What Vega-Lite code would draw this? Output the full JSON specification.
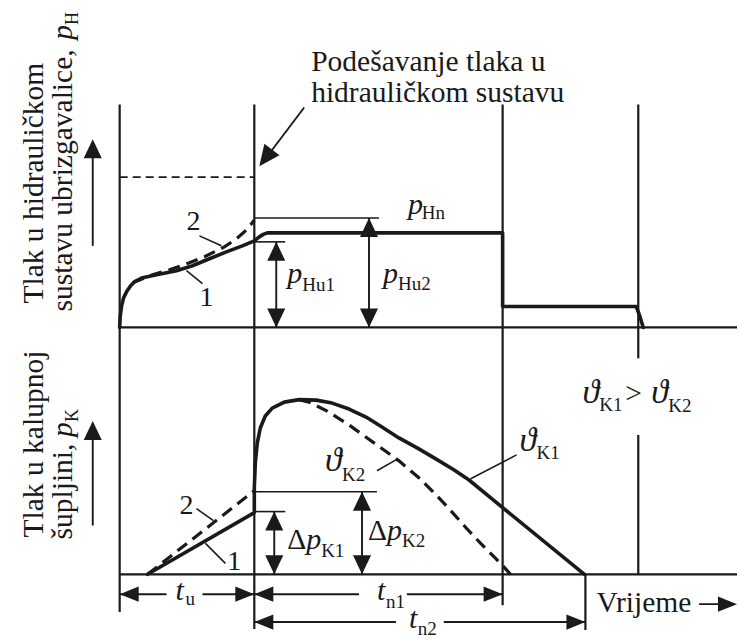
{
  "$schema": "https://vega.github.io/schema/vega-lite/v6.json",
  "width": 739,
  "height": 639,
  "padding": 0,
  "autosize": {"type": "fit", "contains": "padding"},
  "background": "white",
  "config": {"view": {"stroke": null}},
  "datasets": {
    "frame": [
      {"x": 120, "y": 105, "x2": 120, "y2": 615},
      {"x": 255, "y": 105, "x2": 255, "y2": 632},
      {"x": 504, "y": 105, "x2": 504, "y2": 608},
      {"x": 640, "y": 105, "x2": 640, "y2": 360},
      {"x": 640, "y": 437, "x2": 640, "y2": 577},
      {"x": 587, "y": 577, "x2": 587, "y2": 633},
      {"x": 120, "y": 329, "x2": 739, "y2": 329},
      {"x": 120, "y": 577, "x2": 739, "y2": 577}
    ],
    "thin": [
      {"x": 255, "y": 219, "x2": 380, "y2": 219},
      {"x": 255, "y": 243, "x2": 286, "y2": 243},
      {"x": 255, "y": 494, "x2": 378, "y2": 494},
      {"x": 255, "y": 514, "x2": 286, "y2": 514},
      {"x": 200, "y": 237, "x2": 222, "y2": 247},
      {"x": 187, "y": 272, "x2": 203, "y2": 285},
      {"x": 197, "y": 511, "x2": 214, "y2": 523},
      {"x": 206, "y": 546, "x2": 226, "y2": 566},
      {"x": 378, "y": 473, "x2": 397, "y2": 462},
      {"x": 472, "y": 481, "x2": 518, "y2": 457}
    ],
    "dash": [{"x": 120, "y": 178, "x2": 255, "y2": 178}],
    "stems": [
      {"x": 305, "y": 108, "x2": 262, "y2": 165},
      {"x": 277, "y": 243, "x2": 277, "y2": 329},
      {"x": 370, "y": 219, "x2": 370, "y2": 329},
      {"x": 275, "y": 514, "x2": 275, "y2": 577},
      {"x": 363, "y": 494, "x2": 363, "y2": 577},
      {"x": 93, "y": 247, "x2": 93, "y2": 145},
      {"x": 93, "y": 528, "x2": 93, "y2": 428},
      {"x": 120, "y": 597, "x2": 167, "y2": 597},
      {"x": 203, "y": 597, "x2": 255, "y2": 597},
      {"x": 255, "y": 597, "x2": 360, "y2": 597},
      {"x": 408, "y": 597, "x2": 504, "y2": 597},
      {"x": 255, "y": 625, "x2": 397, "y2": 625},
      {"x": 445, "y": 625, "x2": 587, "y2": 625},
      {"x": 701, "y": 607, "x2": 735, "y2": 607}
    ],
    "heads": [
      {"x": 260, "y": 167, "d": "diag"},
      {"x": 277, "y": 243, "d": "up"},
      {"x": 277, "y": 329, "d": "down"},
      {"x": 370, "y": 219, "d": "up"},
      {"x": 370, "y": 329, "d": "down"},
      {"x": 275, "y": 514, "d": "up"},
      {"x": 275, "y": 577, "d": "down"},
      {"x": 363, "y": 494, "d": "up"},
      {"x": 363, "y": 577, "d": "down"},
      {"x": 93, "y": 140, "d": "up"},
      {"x": 93, "y": 423, "d": "up"},
      {"x": 120, "y": 597, "d": "left"},
      {"x": 255, "y": 597, "d": "right"},
      {"x": 255, "y": 597, "d": "left"},
      {"x": 504, "y": 597, "d": "right"},
      {"x": 255, "y": 625, "d": "left"},
      {"x": 587, "y": 625, "d": "right"},
      {"x": 739, "y": 607, "d": "right"}
    ],
    "curves": [
      {"c": "H1", "i": 1, "x": 120, "y": 329},
      {"c": "H1", "i": 2, "x": 120.5, "y": 318},
      {"c": "H1", "i": 3, "x": 122, "y": 307},
      {"c": "H1", "i": 4, "x": 124, "y": 299},
      {"c": "H1", "i": 5, "x": 127, "y": 293},
      {"c": "H1", "i": 6, "x": 131, "y": 287},
      {"c": "H1", "i": 7, "x": 135, "y": 283},
      {"c": "H1", "i": 8, "x": 143, "y": 279},
      {"c": "H1", "i": 9, "x": 157, "y": 276},
      {"c": "H1", "i": 10, "x": 177, "y": 272},
      {"c": "H1", "i": 11, "x": 193, "y": 267},
      {"c": "H1", "i": 12, "x": 210, "y": 260},
      {"c": "H1", "i": 13, "x": 227, "y": 253},
      {"c": "H1", "i": 14, "x": 243, "y": 247},
      {"c": "H1", "i": 15, "x": 255, "y": 242},
      {"c": "H1", "i": 16, "x": 260, "y": 238},
      {"c": "H1", "i": 17, "x": 264, "y": 235.5},
      {"c": "H1", "i": 18, "x": 268, "y": 234},
      {"c": "H1", "i": 19, "x": 504, "y": 234},
      {"c": "H1", "i": 20, "x": 504, "y": 308},
      {"c": "H1", "i": 21, "x": 638, "y": 308},
      {"c": "H1", "i": 22, "x": 641, "y": 316},
      {"c": "H1", "i": 23, "x": 645, "y": 329},
      {"c": "H2", "i": 1, "x": 133, "y": 284},
      {"c": "H2", "i": 2, "x": 153, "y": 276},
      {"c": "H2", "i": 3, "x": 170, "y": 271},
      {"c": "H2", "i": 4, "x": 190, "y": 264},
      {"c": "H2", "i": 5, "x": 205, "y": 258},
      {"c": "H2", "i": 6, "x": 225, "y": 248},
      {"c": "H2", "i": 7, "x": 237, "y": 240},
      {"c": "H2", "i": 8, "x": 246, "y": 232},
      {"c": "H2", "i": 9, "x": 252, "y": 225},
      {"c": "H2", "i": 10, "x": 255, "y": 221},
      {"c": "K1", "i": 1, "x": 148, "y": 577},
      {"c": "K1", "i": 2, "x": 255, "y": 515},
      {"c": "K1", "i": 3, "x": 255, "y": 490},
      {"c": "K1", "i": 4, "x": 256, "y": 465},
      {"c": "K1", "i": 5, "x": 258, "y": 445},
      {"c": "K1", "i": 6, "x": 261, "y": 430},
      {"c": "K1", "i": 7, "x": 266, "y": 418},
      {"c": "K1", "i": 8, "x": 273, "y": 410},
      {"c": "K1", "i": 9, "x": 285, "y": 404},
      {"c": "K1", "i": 10, "x": 300, "y": 401.5},
      {"c": "K1", "i": 11, "x": 317, "y": 402},
      {"c": "K1", "i": 12, "x": 333, "y": 405},
      {"c": "K1", "i": 13, "x": 350, "y": 411},
      {"c": "K1", "i": 14, "x": 367, "y": 419},
      {"c": "K1", "i": 15, "x": 383, "y": 429},
      {"c": "K1", "i": 16, "x": 400, "y": 440},
      {"c": "K1", "i": 17, "x": 420, "y": 451},
      {"c": "K1", "i": 18, "x": 437, "y": 461},
      {"c": "K1", "i": 19, "x": 455, "y": 472},
      {"c": "K1", "i": 20, "x": 470, "y": 482},
      {"c": "K1", "i": 21, "x": 504, "y": 510},
      {"c": "K1", "i": 22, "x": 586, "y": 577},
      {"c": "K2a", "i": 1, "x": 148, "y": 577},
      {"c": "K2a", "i": 2, "x": 255, "y": 493},
      {"c": "K2b", "i": 1, "x": 300, "y": 401.5},
      {"c": "K2b", "i": 2, "x": 310, "y": 404},
      {"c": "K2b", "i": 3, "x": 328, "y": 413},
      {"c": "K2b", "i": 4, "x": 350, "y": 427},
      {"c": "K2b", "i": 5, "x": 375, "y": 445},
      {"c": "K2b", "i": 6, "x": 400, "y": 463},
      {"c": "K2b", "i": 7, "x": 420, "y": 480},
      {"c": "K2b", "i": 8, "x": 437, "y": 497},
      {"c": "K2b", "i": 9, "x": 452, "y": 513},
      {"c": "K2b", "i": 10, "x": 467, "y": 530},
      {"c": "K2b", "i": 11, "x": 482, "y": 546},
      {"c": "K2b", "i": 12, "x": 497, "y": 561},
      {"c": "K2b", "i": 13, "x": 512, "y": 577}
    ],
    "tmain": [
      {"x": 312, "y": 71, "t": "Podešavanje tlaka u"},
      {"x": 312, "y": 102, "t": "hidrauličkom sustavu"},
      {"x": 598, "y": 615, "t": "Vrijeme"},
      {"x": 288, "y": 552, "t": "Δ"},
      {"x": 369, "y": 543, "t": "Δ"},
      {"x": 627, "y": 405, "t": ">"}
    ],
    "tital": [
      {"x": 409, "y": 215, "t": "p"},
      {"x": 288, "y": 284, "t": "p"},
      {"x": 384, "y": 284, "t": "p"},
      {"x": 307, "y": 552, "t": "p"},
      {"x": 388, "y": 543, "t": "p"},
      {"x": 176, "y": 603, "t": "t"},
      {"x": 378, "y": 603, "t": "t"},
      {"x": 410, "y": 631, "t": "t"}
    ],
    "ttheta": [
      {"x": 326, "y": 473, "t": "ϑ"},
      {"x": 521, "y": 453, "t": "ϑ"},
      {"x": 584, "y": 405, "t": "ϑ"},
      {"x": 653, "y": 405, "t": "ϑ"}
    ],
    "tsub": [
      {"x": 423, "y": 220, "t": "Hn"},
      {"x": 303, "y": 292, "t": "Hu1"},
      {"x": 399, "y": 291, "t": "Hu2"},
      {"x": 322, "y": 560, "t": "K1"},
      {"x": 403, "y": 550, "t": "K2"},
      {"x": 343, "y": 483, "t": "K2"},
      {"x": 538, "y": 461, "t": "K1"},
      {"x": 601, "y": 413, "t": "K1"},
      {"x": 670, "y": 414, "t": "K2"},
      {"x": 186, "y": 608, "t": "u"},
      {"x": 387, "y": 611, "t": "n1"},
      {"x": 419, "y": 638, "t": "n2"}
    ],
    "tnum": [
      {"x": 194, "y": 223, "t": "2"},
      {"x": 207, "y": 299, "t": "1"},
      {"x": 187, "y": 508, "t": "2"},
      {"x": 235, "y": 565, "t": "1"}
    ],
    "trot": [
      {"x": 43, "y": 305, "t": "Tlak u hidrauličkom"},
      {"x": 72, "y": 313, "t": "sustavu ubrizgavalice,"},
      {"x": 43, "y": 540, "t": "Tlak u kalupnoj"},
      {"x": 72, "y": 542, "t": "šupljini,"}
    ],
    "trotit": [
      {"x": 72, "y": 40, "t": "p"},
      {"x": 72, "y": 439, "t": "p"}
    ],
    "trotsub": [
      {"x": 78, "y": 25, "t": "H"},
      {"x": 78, "y": 424, "t": "K"}
    ]
  },
  "encoding": {
    "x": {"field": "x", "type": "quantitative", "scale": {"domain": [0, 739], "nice": false, "zero": false}, "axis": null},
    "y": {"field": "y", "type": "quantitative", "scale": {"domain": [0, 639], "nice": false, "zero": false, "reverse": true}, "axis": null}
  },
  "layer": [
    {
      "data": {"name": "frame"},
      "mark": {"type": "rule", "color": "#1a1a1a", "strokeWidth": 2.2},
      "encoding": {"x2": {"field": "x2"}, "y2": {"field": "y2"}}
    },
    {
      "data": {"name": "thin"},
      "mark": {"type": "rule", "color": "#1a1a1a", "strokeWidth": 1.6},
      "encoding": {"x2": {"field": "x2"}, "y2": {"field": "y2"}}
    },
    {
      "data": {"name": "dash"},
      "mark": {"type": "rule", "color": "#1a1a1a", "strokeWidth": 1.8, "strokeDash": [8, 5]},
      "encoding": {"x2": {"field": "x2"}, "y2": {"field": "y2"}}
    },
    {
      "data": {"name": "stems"},
      "mark": {"type": "rule", "color": "#1a1a1a", "strokeWidth": 1.9},
      "encoding": {"x2": {"field": "x2"}, "y2": {"field": "y2"}}
    },
    {
      "data": {"name": "curves"},
      "transform": [{"filter": "datum.c === 'H1' || datum.c === 'K1'"}],
      "mark": {"type": "line", "color": "#1a1a1a", "strokeWidth": 3.6, "strokeJoin": "round", "strokeCap": "round"},
      "encoding": {"detail": {"field": "c"}, "order": {"field": "i", "type": "quantitative"}}
    },
    {
      "data": {"name": "curves"},
      "transform": [{"filter": "datum.c === 'H2' || datum.c === 'K2a' || datum.c === 'K2b'"}],
      "mark": {"type": "line", "color": "#1a1a1a", "strokeWidth": 3.2, "strokeDash": [12, 7]},
      "encoding": {"detail": {"field": "c"}, "order": {"field": "i", "type": "quantitative"}}
    },
    {
      "data": {"name": "heads"},
      "transform": [{"filter": "datum.d === 'up'"}],
      "mark": {"type": "point", "shape": "M0,0L0.95,2L-0.95,2Z", "size": 361, "filled": true, "color": "#1a1a1a", "opacity": 1, "strokeWidth": 0, "angle": 0}
    },
    {
      "data": {"name": "heads"},
      "transform": [{"filter": "datum.d === 'down'"}],
      "mark": {"type": "point", "shape": "M0,0L0.95,2L-0.95,2Z", "size": 361, "filled": true, "color": "#1a1a1a", "opacity": 1, "strokeWidth": 0, "angle": 180}
    },
    {
      "data": {"name": "heads"},
      "transform": [{"filter": "datum.d === 'left'"}],
      "mark": {"type": "point", "shape": "M0,0L0.8,2L-0.8,2Z", "size": 361, "filled": true, "color": "#1a1a1a", "opacity": 1, "strokeWidth": 0, "angle": 270}
    },
    {
      "data": {"name": "heads"},
      "transform": [{"filter": "datum.d === 'right'"}],
      "mark": {"type": "point", "shape": "M0,0L0.8,2L-0.8,2Z", "size": 361, "filled": true, "color": "#1a1a1a", "opacity": 1, "strokeWidth": 0, "angle": 90}
    },
    {
      "data": {"name": "heads"},
      "transform": [{"filter": "datum.d === 'diag'"}],
      "mark": {"type": "point", "shape": "M0,0L0.9,2L-0.9,2Z", "size": 441, "filled": true, "color": "#1a1a1a", "opacity": 1, "strokeWidth": 0, "angle": 217}
    },
    {
      "data": {"name": "tmain"},
      "mark": {"type": "text", "font": "Liberation Serif", "fontSize": 29.5, "align": "left", "baseline": "alphabetic", "color": "#1a1a1a"},
      "encoding": {"text": {"field": "t"}}
    },
    {
      "data": {"name": "tital"},
      "mark": {"type": "text", "font": "Liberation Serif", "fontSize": 30, "fontStyle": "italic", "align": "left", "baseline": "alphabetic", "color": "#1a1a1a"},
      "encoding": {"text": {"field": "t"}}
    },
    {
      "data": {"name": "ttheta"},
      "mark": {"type": "text", "font": "Liberation Serif", "fontSize": 34, "fontStyle": "italic", "align": "left", "baseline": "alphabetic", "color": "#1a1a1a"},
      "encoding": {"text": {"field": "t"}}
    },
    {
      "data": {"name": "tsub"},
      "mark": {"type": "text", "font": "Liberation Serif", "fontSize": 19, "align": "left", "baseline": "alphabetic", "color": "#1a1a1a"},
      "encoding": {"text": {"field": "t"}}
    },
    {
      "data": {"name": "tnum"},
      "mark": {"type": "text", "font": "Liberation Serif", "fontSize": 28, "align": "center", "baseline": "middle", "color": "#1a1a1a"},
      "encoding": {"text": {"field": "t"}}
    },
    {
      "data": {"name": "trot"},
      "mark": {"type": "text", "font": "Liberation Serif", "fontSize": 29.5, "angle": 270, "align": "left", "baseline": "alphabetic", "color": "#1a1a1a"},
      "encoding": {"text": {"field": "t"}}
    },
    {
      "data": {"name": "trotit"},
      "mark": {"type": "text", "font": "Liberation Serif", "fontSize": 29.5, "fontStyle": "italic", "angle": 270, "align": "left", "baseline": "alphabetic", "color": "#1a1a1a"},
      "encoding": {"text": {"field": "t"}}
    },
    {
      "data": {"name": "trotsub"},
      "mark": {"type": "text", "font": "Liberation Serif", "fontSize": 18, "angle": 270, "align": "left", "baseline": "alphabetic", "color": "#1a1a1a"},
      "encoding": {"text": {"field": "t"}}
    }
  ]
}
